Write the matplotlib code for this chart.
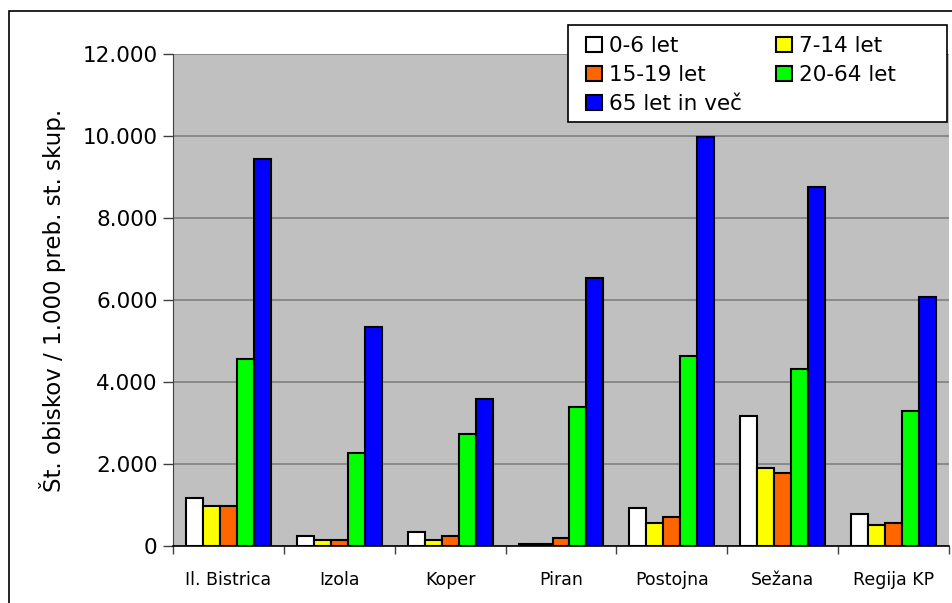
import numpy as np
import matplotlib
matplotlib.use('Agg')
import matplotlib.pyplot as plt
from matplotlib.patches import Rectangle

plt.rcParams['font.family'] = ['DejaVu Sans']

# categories (občine) and age groups
obcine = ['Il. Bistrica', 'Izola', 'Koper', 'Piran', 'Postojna', 'Sežana', 'Regija KP']
skupine = ['0-6 let', '7-14 let', '15-19 let', '20-64 let', '65 let in več']
barve = ['#ffffff', '#ffff00', '#ff6600', '#00ff00', '#0000ff']

# values
v_0_6 = [1170, 240, 340, 50, 930, 3160, 790]
v_7_14 = [975, 150, 140, 50, 560, 1900, 510]
v_15_19 = [975, 150, 240, 200, 700, 1780, 560]
v_20_64 = [4560, 2270, 2740, 3400, 4640, 4320, 3300]
v_65 = [9450, 5340, 3580, 6540, 9970, 8760, 6080]
serije = [v_0_6, v_7_14, v_15_19, v_20_64, v_65]

yticks = [0, 2000, 4000, 6000, 8000, 10000, 12000]

fig = plt.figure(figsize=(9.53, 6.03), dpi=100)
ax = fig.add_axes([173/953, 1 - 546/603, (949 - 173)/953, (546 - 54)/603])
ax.set_facecolor('#c0c0c0')

x = np.arange(len(obcine))
w = 0.153
for i, (vals, c, lab) in enumerate(zip(serije, barve, skupine)):
    ax.bar(x + (i - 2) * w, vals, width=w, color=c, edgecolor='black',
           linewidth=1.5, label=lab, zorder=3)

ax.set_xlim(-0.5, len(obcine) - 0.5)
ax.set_ylim(0, 12000)
ax.set_yticks(yticks)
ax.set_yticklabels(['{:,}'.format(t).replace(',', '.') for t in yticks], fontsize=15.5)
ax.yaxis.grid(True, color='#808080', linewidth=1.2, zorder=1)
ax.set_axisbelow(True)

# x ticks between categories, labels at centers
ax.set_xticks(np.arange(-0.5, len(obcine)), minor=False)
ax.set_xticklabels([])
ax.set_xticks(x, minor=True)
ax.set_xticklabels(obcine, minor=True, fontsize=12.5)
ax.tick_params(axis='x', which='minor', length=0, pad=18)
ax.tick_params(axis='x', which='major', length=6, width=1, color='#404040')
ax.tick_params(axis='y', length=7, width=1, color='#404040', pad=4)

for s in ['top', 'right']:
    ax.spines[s].set_visible(False)
ax.spines['left'].set_color('#404040')
ax.spines['bottom'].set_color('black')
ax.spines['bottom'].set_linewidth(1.2)

ax.set_ylabel('Št. obiskov / 1.000 preb. st. skup.', fontsize=16.5, labelpad=12)

# legend box drawn separately, entries filled row by row like the original
fig.patches.append(Rectangle((568/953, 1 - 122/603), (947 - 568)/953, 97/603,
                             transform=fig.transFigure, facecolor='white',
                             edgecolor='black', linewidth=1.2, zorder=5))
handles, labels = ax.get_legend_handles_labels()
order = [0, 2, 4, 1, 3]
leg = fig.legend([handles[k] for k in order], [labels[k] for k in order],
                 loc='upper left', bbox_to_anchor=(586/953, 1 - 36/603), ncol=2,
                 fontsize=15.5, frameon=False,
                 handlelength=0.75, handleheight=0.75, handletextpad=0.3,
                 columnspacing=1.6, labelspacing=0.42, borderpad=0,
                 borderaxespad=0)
leg.set_zorder(6)

# outer chart border
fig.patches.append(Rectangle((9/953, -0.1), 1.2, 1 - 11/603 + 0.1,
                             transform=fig.transFigure, fill=False,
                             edgecolor='black', linewidth=1.2))

fig.savefig('out.png', dpi=100)
